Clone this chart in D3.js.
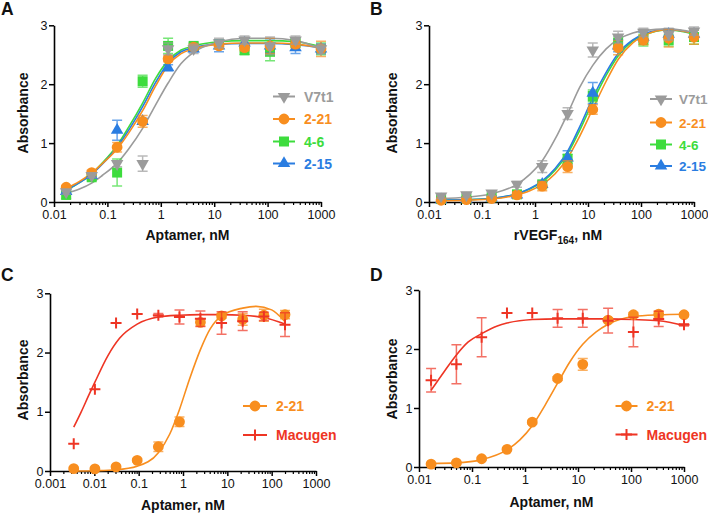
<!DOCTYPE html>
<html><head><meta charset="utf-8">
<script src="https://cdn.jsdelivr.net/npm/d3@7"></script>
<style>
body{margin:0;background:#fff}
svg{display:block;font-family:"Liberation Sans",Arial,sans-serif}
</style>
</head><body>
<svg id="chart" width="708" height="515"></svg>
<script>
// ================= DATA =================
const concAB = [0.0169, 0.0508, 0.152, 0.457, 1.37, 4.12, 12.3, 37.0, 111, 333, 1000];
const concC  = [0.00343, 0.0103, 0.0309, 0.0926, 0.278, 0.833, 2.47, 7.41, 22.2, 66.7, 200];
const concD  = [0.0169, 0.0508, 0.152, 0.457, 1.37, 4.12, 12.3, 37.0, 111, 333, 1000];

const ticksAB = [0.01, 0.1, 1, 10, 100, 1000];
const tickLabelsAB = ["0.01", "0.1", "1", "10", "100", "1000"];
const ticksC = [0.001, 0.01, 0.1, 1, 10, 100, 1000];
const tickLabelsC = ["0.001", "0.01", "0.1", "1", "10", "100", "1000"];
const yTicks = [0, 1, 2, 3];
const yTickLabels = ["0", "1", "2", "3"];

// Panel A (binding vs aptamer)
const aV7t1 = [0.17, 0.45, 0.65, 0.65, 2.60, 2.60, 2.70, 2.75, 2.65, 2.75, 2.60];
const aV7t1Err = [0.04, 0.04, 0.05, 0.13, 0.10, 0.08, 0.08, 0.07, 0.15, 0.07, 0.08];
const a221 = [0.25, 0.50, 0.93, 1.37, 2.43, 2.63, 2.65, 2.62, 2.65, 2.68, 2.60];
const a221Err = [0.03, 0.04, 0.08, 0.10, 0.05, 0.05, 0.05, 0.05, 0.13, 0.06, 0.13];
const a46 = [0.12, 0.42, 0.50, 2.05, 2.65, 2.65, 2.68, 2.58, 2.55, 2.70, 2.60];
const a46Err = [0.06, 0.04, 0.23, 0.10, 0.13, 0.05, 0.06, 0.08, 0.15, 0.06, 0.10];
const a215 = [0.18, 0.45, 1.22, 1.37, 2.28, 2.60, 2.65, 2.70, 2.65, 2.62, 2.60];
const a215Err = [0.03, 0.04, 0.17, 0.05, 0.05, 0.05, 0.10, 0.08, 0.12, 0.10, 0.08];

const aFitX = [0.0169, 0.03, 0.0508, 0.08, 0.152, 0.25, 0.457, 0.8, 1.37, 2.4, 4.12, 12.3, 37, 111, 333, 1000];
const aFitV7t1 = [0.15, 0.22, 0.32, 0.45, 0.66, 0.90, 1.25, 1.65, 2.02, 2.35, 2.54, 2.72, 2.78, 2.78, 2.74, 2.60];
const aFit221  = [0.23, 0.35, 0.49, 0.65, 0.90, 1.17, 1.55, 1.97, 2.32, 2.52, 2.60, 2.68, 2.70, 2.70, 2.68, 2.62];
const aFit46   = [0.20, 0.33, 0.48, 0.66, 0.96, 1.27, 1.68, 2.10, 2.40, 2.58, 2.65, 2.72, 2.74, 2.74, 2.72, 2.64];
const aFit215  = [0.20, 0.33, 0.47, 0.64, 0.93, 1.22, 1.62, 2.03, 2.36, 2.55, 2.62, 2.68, 2.69, 2.69, 2.67, 2.62];

// Panel B (binding vs rVEGF164)
const bV7t1 = [0.10, 0.12, 0.15, 0.30, 0.60, 1.50, 2.58, 2.80, 2.88, 2.85, 2.90];
const bV7t1Err = [0.04, 0.04, 0.04, 0.05, 0.10, 0.10, 0.12, 0.10, 0.07, 0.10, 0.07];
const b221 = [0.03, 0.04, 0.06, 0.12, 0.27, 0.60, 1.57, 2.62, 2.75, 2.78, 2.80];
const b221Err = [0.03, 0.03, 0.03, 0.05, 0.08, 0.10, 0.08, 0.12, 0.08, 0.15, 0.12];
const b46 = [0.05, 0.06, 0.08, 0.13, 0.30, 0.73, 1.80, 2.70, 2.75, 2.75, 2.80];
const b46Err = [0.03, 0.03, 0.03, 0.05, 0.05, 0.08, 0.10, 0.10, 0.10, 0.10, 0.12];
const b215 = [0.04, 0.05, 0.07, 0.12, 0.30, 0.75, 1.85, 2.65, 2.80, 2.85, 2.85];
const b215Err = [0.03, 0.03, 0.03, 0.04, 0.05, 0.12, 0.18, 0.10, 0.08, 0.08, 0.08];

const bFitX = [0.0169, 0.0508, 0.152, 0.457, 0.8, 1.37, 2.4, 4.12, 7, 12.3, 22, 37, 70, 111, 333, 1000];
const bFitV7t1 = [0.06, 0.08, 0.14, 0.30, 0.47, 0.70, 1.07, 1.50, 1.95, 2.32, 2.60, 2.76, 2.87, 2.91, 2.94, 2.88];
const bFit221  = [0.02, 0.03, 0.05, 0.12, 0.19, 0.30, 0.48, 0.75, 1.12, 1.58, 2.05, 2.42, 2.70, 2.82, 2.93, 2.86];
const bFit46   = [0.03, 0.04, 0.06, 0.14, 0.22, 0.34, 0.54, 0.82, 1.22, 1.70, 2.15, 2.48, 2.73, 2.83, 2.92, 2.85];
const bFit215  = [0.03, 0.04, 0.06, 0.14, 0.23, 0.36, 0.57, 0.86, 1.28, 1.77, 2.20, 2.52, 2.75, 2.85, 2.93, 2.86];

// Panel C
const c221 = [0.04, 0.035, 0.07, 0.18, 0.41, 0.83, 2.51, 2.62, 2.56, 2.63, 2.64];
const c221Err = [0.02, 0.02, 0.02, 0.03, 0.08, 0.08, 0.06, 0.04, 0.10, 0.10, 0.07];
const cMac = [0.46, 1.38, 2.50, 2.65, 2.63, 2.60, 2.57, 2.50, 2.53, 2.61, 2.47];
const cMacErr = [0, 0, 0, 0, 0.03, 0.12, 0.13, 0.19, 0.16, 0.07, 0.20];
const cFit221X = [0.00343, 0.0103, 0.0309, 0.0926, 0.278, 0.5, 0.833, 1.4, 2.47, 4.1, 7.41, 22.2, 45, 100, 200];
const cFit221  = [0.00, 0.005, 0.02, 0.08, 0.31, 0.62, 1.04, 1.55, 2.05, 2.40, 2.62, 2.75, 2.78, 2.72, 2.52];
const cFitMacX = [0.00343, 0.005, 0.0075, 0.0103, 0.02, 0.037, 0.0926, 0.278, 0.833, 2.47, 7.41, 22.2, 66.7, 200];
const cFitMac  = [0.74, 0.99, 1.28, 1.50, 1.94, 2.24, 2.48, 2.60, 2.63, 2.64, 2.64, 2.63, 2.59, 2.48];

// Panel D
const d221 = [0.05, 0.07, 0.14, 0.30, 0.76, 1.50, 1.74, 2.49, 2.58, 2.59, 2.58];
const d221Err = [0.02, 0.02, 0.02, 0.02, 0.03, 0.03, 0.10, 0.04, 0.04, 0.05, 0.03];
const dMac = [1.47, 1.74, 2.20, 2.61, 2.61, 2.52, 2.52, 2.48, 2.29, 2.51, 2.41];
const dMacErr = [0.20, 0.33, 0.33, 0, 0, 0.15, 0.15, 0.21, 0.25, 0.13, 0.02];
const dFit221X = [0.0169, 0.0508, 0.152, 0.457, 0.8, 1.37, 2.4, 4.12, 7, 12.3, 22, 37, 111, 333, 1000];
const dFit221  = [0.06, 0.07, 0.125, 0.29, 0.46, 0.70, 1.05, 1.42, 1.78, 2.08, 2.29, 2.42, 2.55, 2.58, 2.59];
const dFitMacX = [0.0169, 0.03, 0.0508, 0.085, 0.152, 0.3, 0.457, 1.37, 4.12, 37, 111, 333, 1000];
const dFitMac  = [1.30, 1.62, 1.90, 2.12, 2.26, 2.39, 2.44, 2.50, 2.51, 2.51, 2.50, 2.48, 2.40];

// ================= STYLE =================
const COL = {V7t1: "#9b9b9b", "2-21": "#f88e1f", "4-6": "#3ddc3d", "2-15": "#2a7de1", Macugen: "#ee3524"};
const SHAPE = {V7t1: "down", "2-21": "circle", "4-6": "square", "2-15": "up", Macugen: "plus"};

const svg = d3.select("#chart");

function marker(g, type, color, cx, cy) {
  if (type === "plus") {
    g.append("path").attr("d", `M${cx-5.5},${cy}H${cx+5.5}M${cx},${cy-5.5}V${cy+5.5}`)
      .attr("stroke", color).attr("stroke-width", 2).attr("fill", "none");
    return;
  }
  let sym, size, rot = 0;
  if (type === "circle") { sym = d3.symbolCircle; size = 92; }
  else if (type === "square") { sym = d3.symbolSquare; size = 100; }
  else if (type === "up") { sym = d3.symbolTriangle; size = 68; }
  else { sym = d3.symbolTriangle; size = 68; rot = 180; }
  g.append("path").attr("d", d3.symbol(sym, size)())
    .attr("transform", `translate(${cx},${cy}) rotate(${rot})`)
    .attr("fill", color);
}

function drawPanel(p) {
  const g = svg.append("g");
  const x = d3.scaleLog().domain(p.xDomain).range(p.xRange);
  const y = d3.scaleLinear().domain([0, 3]).range(p.yRange);

  // axes
  const majors = p.ticks;
  const minors = x.ticks().filter(v => !majors.some(m => Math.abs(Math.log10(v) - Math.log10(m)) < 1e-6));
  const xMinor = g.append("g").attr("transform", `translate(0,${p.yRange[0]})`)
    .call(d3.axisBottom(x).tickValues(minors).tickSize(3).tickSizeOuter(0).tickFormat(""));
  xMinor.select(".domain").remove();
  xMinor.selectAll("line").attr("stroke", "#000").attr("stroke-width", 1.2);
  const xAx = g.append("g").attr("transform", `translate(0,${p.yRange[0]})`)
    .call(d3.axisBottom(x).tickValues(majors).tickSize(5).tickSizeOuter(0).tickPadding(3.5)
      .tickFormat((d, i) => p.tickLabels[i]));
  const yAx = g.append("g").attr("transform", `translate(${p.xRange[0]},0)`)
    .call(d3.axisLeft(y).tickValues(yTicks).tickSize(5).tickSizeOuter(0).tickPadding(1.5)
      .tickFormat((d, i) => yTickLabels[i]));
  [xAx, yAx].forEach(a => {
    a.select(".domain").attr("stroke", "#000").attr("stroke-width", 1.6);
    a.selectAll(".tick line").attr("stroke", "#000").attr("stroke-width", 1.5);
    a.selectAll("text").attr("font-size", "12.5px").attr("fill", "#111")
      .attr("font-family", "Liberation Sans, Arial, sans-serif");
  });

  // curves
  const line = d3.line().x(d => x(d[0])).y(d => y(d[1])).curve(d3.curveMonotoneX);
  p.series.forEach(s => {
    const pts = s.fitX.map((v, i) => [v, s.fit[i]]);
    g.append("path").attr("d", line(pts)).attr("fill", "none")
      .attr("stroke", COL[s.name]).attr("stroke-width", 1.6);
  });

  // error bars + markers
  p.series.forEach(s => {
    const c = COL[s.name];
    const eg = g.append("g").attr("stroke", c).attr("stroke-opacity", 0.7).attr("stroke-width", 1.5).attr("fill", "none");
    s.x.forEach((v, i) => {
      const e = s.err[i];
      if (!e) return;
      const px = x(v), y1 = y(s.y[i] - e), y2 = y(s.y[i] + e);
      eg.append("path").attr("d", `M${px},${y1}V${y2}M${px-5},${y1}H${px+5}M${px-5},${y2}H${px+5}`);
    });
    const mg = g.append("g");
    s.x.forEach((v, i) => marker(mg, SHAPE[s.name], c, x(v), y(s.y[i])));
  });

  // legend
  const lg = g.append("g");
  p.legend.names.forEach((n, i) => {
    const ly = p.legend.ys[i];
    lg.append("line").attr("x1", p.legend.x1).attr("x2", p.legend.x2).attr("y1", ly).attr("y2", ly)
      .attr("stroke", COL[n]).attr("stroke-width", 2);
    marker(lg, SHAPE[n], COL[n], (p.legend.x1 + p.legend.x2) / 2, ly);
    lg.append("text").attr("x", p.legend.tx).attr("y", ly + 5).text(n)
      .attr("fill", COL[n]).attr("font-weight", "bold").attr("font-size", p.legend.fs);
  });

  // titles
  g.append("text").attr("x", p.letter[0]).attr("y", p.letter[1]).text(p.id)
    .attr("font-weight", "bold").attr("font-size", "17.5px").attr("fill", "#111");
  g.append("text").attr("transform", `translate(${p.yTitle[0]},${p.yTitle[1]}) rotate(-90)`)
    .attr("text-anchor", "middle").attr("font-weight", "bold").attr("font-size", "14px")
    .attr("fill", "#111").text("Absorbance");
  const xt = g.append("text").attr("x", p.xTitle[0]).attr("y", p.xTitle[1])
    .attr("text-anchor", "middle").attr("font-weight", "bold").attr("font-size", "14px").attr("fill", "#111");
  if (p.sub) {
    xt.append("tspan").text(p.xLabel[0]);
    xt.append("tspan").text(p.xLabel[1]).attr("font-size", "10px").attr("dy", 4);
    xt.append("tspan").text(p.xLabel[2]).attr("dy", -4);
  } else {
    xt.text(p.xLabel[0]);
  }
}

const panels = [
  {
    id: "A", xDomain: [0.01, 1000], xRange: [54, 321], yRange: [202, 25.3],
    ticks: ticksAB, tickLabels: tickLabelsAB,
    letter: [1, 15], yTitle: [28, 113], xTitle: [187.5, 240], xLabel: ["Aptamer, nM"],
    series: [
      {name: "4-6", x: concAB, y: a46, err: a46Err, fitX: aFitX, fit: aFit46},
      {name: "2-15", x: concAB, y: a215, err: a215Err, fitX: aFitX, fit: aFit215},
      {name: "2-21", x: concAB, y: a221, err: a221Err, fitX: aFitX, fit: aFit221},
      {name: "V7t1", x: concAB, y: aV7t1, err: aV7t1Err, fitX: aFitX, fit: aFitV7t1}
    ],
    legend: {names: ["V7t1", "2-21", "4-6", "2-15"], ys: [96.5, 119, 141.5, 163.5], x1: 273, x2: 295, tx: 304, fs: "14px"}
  },
  {
    id: "B", xDomain: [0.01, 1000], xRange: [429, 694], yRange: [202, 25.3],
    ticks: ticksAB, tickLabels: tickLabelsAB,
    letter: [370, 15], yTitle: [397, 113], xTitle: [558, 240], sub: true, xLabel: ["rVEGF", "164", ", nM"],
    series: [
      {name: "4-6", x: concAB, y: b46, err: b46Err, fitX: bFitX, fit: bFit46},
      {name: "2-15", x: concAB, y: b215, err: b215Err, fitX: bFitX, fit: bFit215},
      {name: "2-21", x: concAB, y: b221, err: b221Err, fitX: bFitX, fit: bFit221},
      {name: "V7t1", x: concAB, y: bV7t1, err: bV7t1Err, fitX: bFitX, fit: bFitV7t1}
    ],
    legend: {names: ["V7t1", "2-21", "4-6", "2-15"], ys: [99, 122.5, 144.5, 166], x1: 650, x2: 672, tx: 679, fs: "13.5px"}
  },
  {
    id: "C", xDomain: [0.001, 1000], xRange: [50, 316], yRange: [471, 293.3],
    ticks: ticksC, tickLabels: tickLabelsC,
    letter: [1, 281], yTitle: [28, 380], xTitle: [183, 509.5], xLabel: ["Aptamer, nM"],
    series: [
      {name: "2-21", x: concC, y: c221, err: c221Err, fitX: cFit221X, fit: cFit221},
      {name: "Macugen", x: concC, y: cMac, err: cMacErr, fitX: cFitMacX, fit: cFitMac}
    ],
    legend: {names: ["2-21", "Macugen"], ys: [406, 435], x1: 243, x2: 267, tx: 276, fs: "14px"}
  },
  {
    id: "D", xDomain: [0.01, 1000], xRange: [419, 684], yRange: [467, 290],
    ticks: ticksAB, tickLabels: tickLabelsAB,
    letter: [370, 281], yTitle: [397, 379], xTitle: [551.5, 507], xLabel: ["Aptamer, nM"],
    series: [
      {name: "2-21", x: concD, y: d221, err: d221Err, fitX: dFit221X, fit: dFit221},
      {name: "Macugen", x: concD, y: dMac, err: dMacErr, fitX: dFitMacX, fit: dFitMac}
    ],
    legend: {names: ["2-21", "Macugen"], ys: [406, 434.5], x1: 615.5, x2: 637.5, tx: 646.5, fs: "14px"}
  }
];

panels.forEach(drawPanel);
</script>
</body></html>
